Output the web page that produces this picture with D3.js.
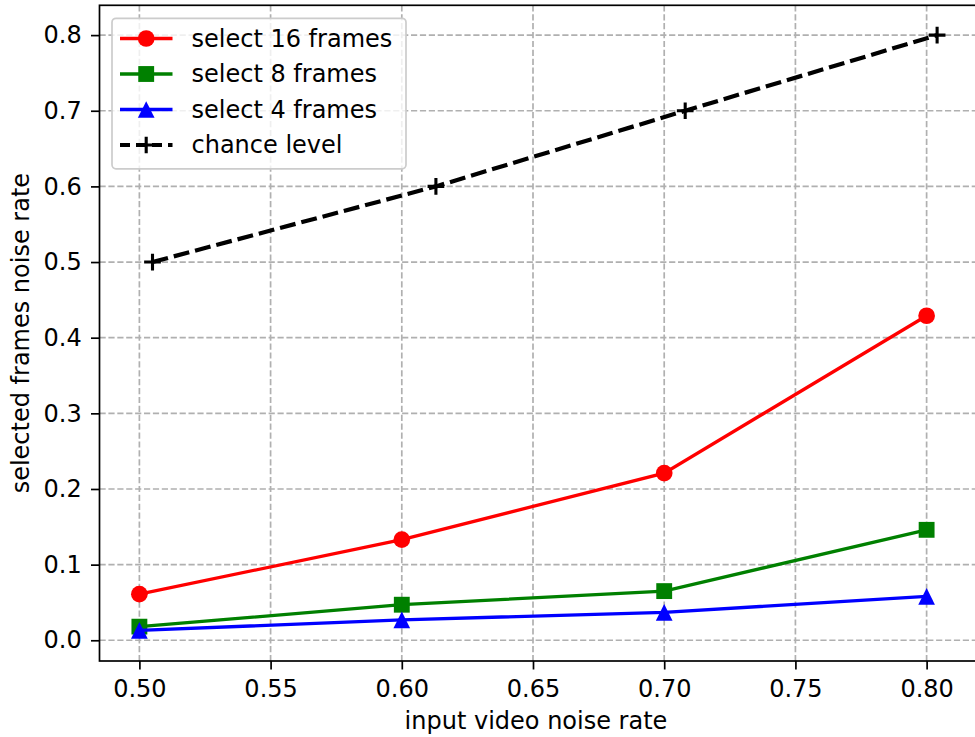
<!DOCTYPE html>
<html>
<head>
<meta charset="utf-8">
<script src="https://cdn.jsdelivr.net/npm/d3@7"></script>
<style>
  body { margin: 0; background: #fff; }
  text { font-family: "DejaVu Sans", sans-serif; fill: #000; }
</style>
</head>
<body>
<div id="chart"></div>
<script>
// data
const xValues = [0.5, 0.6, 0.7, 0.8];
const select16 = [0.061, 0.133, 0.221, 0.429];
const select8 = [0.018, 0.047, 0.065, 0.146];
const select4 = [0.013, 0.027, 0.037, 0.058];
const chanceX = [0.505, 0.613, 0.708, 0.804];
const chanceY = [0.5, 0.6, 0.7, 0.8];
const xTicks = [0.50, 0.55, 0.60, 0.65, 0.70, 0.75, 0.80];
const yTicks = [0.0, 0.1, 0.2, 0.3, 0.4, 0.5, 0.6, 0.7, 0.8];

const W = 975, H = 737;
const fontSize = 24;

const svg = d3.select('#chart').append('svg')
  .attr('width', W).attr('height', H);

const x = d3.scaleLinear().domain([0.4848, 0.8192]).range([99.5, 977]);
const y = d3.scaleLinear().domain([-0.0274, 0.8394]).range([661, 5.3]);

const pLeft = x.range()[0], pRight = x.range()[1];
const pTop = y.range()[1], pBottom = y.range()[0];

svg.append('defs').append('clipPath').attr('id', 'clip')
  .append('rect').attr('x', pLeft).attr('y', pTop)
  .attr('width', pRight - pLeft).attr('height', pBottom - pTop);

// grid
const grid = svg.append('g')
  .attr('stroke', '#b0b0b0').attr('stroke-width', 1.7)
  .attr('stroke-dasharray', '6.2,2.7');
xTicks.forEach(t => grid.append('line')
  .attr('x1', x(t)).attr('x2', x(t)).attr('y1', pTop).attr('y2', pBottom));
yTicks.forEach(t => grid.append('line')
  .attr('x1', pLeft).attr('x2', pRight).attr('y1', y(t)).attr('y2', y(t)));

// axes
const xAxis = svg.append('g')
  .attr('transform', `translate(0,${pBottom})`)
  .call(d3.axisBottom(x).tickValues(xTicks).tickFormat(d3.format('.2f'))
    .tickSizeInner(8.5).tickSizeOuter(0).tickPadding(10));
const yAxis = svg.append('g')
  .attr('transform', `translate(${pLeft},0)`)
  .call(d3.axisLeft(y).tickValues(yTicks).tickFormat(d3.format('.1f'))
    .tickSizeInner(8.5).tickSizeOuter(0).tickPadding(9.3));
[xAxis, yAxis].forEach(a => {
  a.select('.domain').remove();
  a.selectAll('.tick line').attr('stroke', '#000').attr('stroke-width', 1.7);
  a.selectAll('.tick text').attr('font-family', '"DejaVu Sans", sans-serif')
    .attr('font-size', fontSize).attr('fill', '#000');
});

// spines
svg.append('rect')
  .attr('x', pLeft).attr('y', pTop)
  .attr('width', pRight - pLeft).attr('height', pBottom - pTop)
  .attr('fill', 'none').attr('stroke', '#000').attr('stroke-width', 1.7);

// axis labels
svg.append('text')
  .attr('x', 536).attr('y', 729)
  .attr('text-anchor', 'middle').attr('font-size', fontSize)
  .text('input video noise rate');
svg.append('text')
  .attr('transform', `translate(29,${(pTop + pBottom) / 2}) rotate(-90)`)
  .attr('text-anchor', 'middle').attr('font-size', fontSize)
  .text('selected frames noise rate');

const series = [
  { name: 'select 16 frames', xs: xValues, ys: select16, color: '#ff0000', marker: 'circle' },
  { name: 'select 8 frames', xs: xValues, ys: select8, color: '#008000', marker: 'square' },
  { name: 'select 4 frames', xs: xValues, ys: select4, color: '#0000ff', marker: 'triangle' },
  { name: 'chance level', xs: chanceX, ys: chanceY, color: '#000000', marker: 'plus', dashed: true },
];

const ms = 16.7;
const symbols = {
  circle: d3.symbol(d3.symbolCircle, Math.PI * (ms / 2) ** 2)(),
  square: d3.symbol(d3.symbolSquare, (ms * 0.95) ** 2)(),
  triangle: `M0,${-ms / 2}L${ms / 2},${ms / 2}L${-ms / 2},${ms / 2}Z`,
  plus: `M${-ms / 2},0H${ms / 2}M0,${-ms / 2}V${ms / 2}`,
};

function drawMarker(g, s, cx, cy) {
  const p = g.append('path')
    .attr('d', symbols[s.marker])
    .attr('transform', `translate(${cx},${cy})`);
  if (s.marker === 'plus') {
    p.attr('fill', 'none').attr('stroke', s.color).attr('stroke-width', 3.1);
  } else {
    p.attr('fill', s.color).attr('stroke', 'none');
  }
}

const plot = svg.append('g').attr('clip-path', 'url(#clip)');
const line = d3.line().x(d => x(d[0])).y(d => y(d[1]));

series.forEach(s => {
  const pts = s.xs.map((v, i) => [v, s.ys[i]]);
  plot.append('path')
    .datum(pts)
    .attr('d', line)
    .attr('fill', 'none')
    .attr('stroke', s.color)
    .attr('stroke-width', s.dashed ? 4.2 : 3.3)
    .attr('stroke-dasharray', s.dashed ? '16,6' : null);
  pts.forEach(p => drawMarker(plot, s, x(p[0]), y(p[1])));
});

// legend
const legend = svg.append('g');
legend.append('rect')
  .attr('x', 112).attr('y', 18.3).attr('width', 294).attr('height', 150.5)
  .attr('rx', 4).attr('ry', 4)
  .attr('fill', '#fff').attr('fill-opacity', 0.8)
  .attr('stroke', '#cccccc').attr('stroke-width', 1.7);
series.forEach((s, i) => {
  const cy = 38.5 + i * 35.5;
  const g = legend.append('g');
  g.append('line')
    .attr('x1', 120).attr('x2', 172.5).attr('y1', cy).attr('y2', cy)
    .attr('stroke', s.color)
    .attr('stroke-width', s.dashed ? 4.2 : 3.3)
    .attr('stroke-dasharray', s.dashed ? '10,6' : null);
  drawMarker(g, s, 146.2, cy);
  g.append('text')
    .attr('x', 191.5).attr('y', cy + 8.3)
    .attr('font-size', fontSize)
    .text(s.name);
});
</script>
</body>
</html>
